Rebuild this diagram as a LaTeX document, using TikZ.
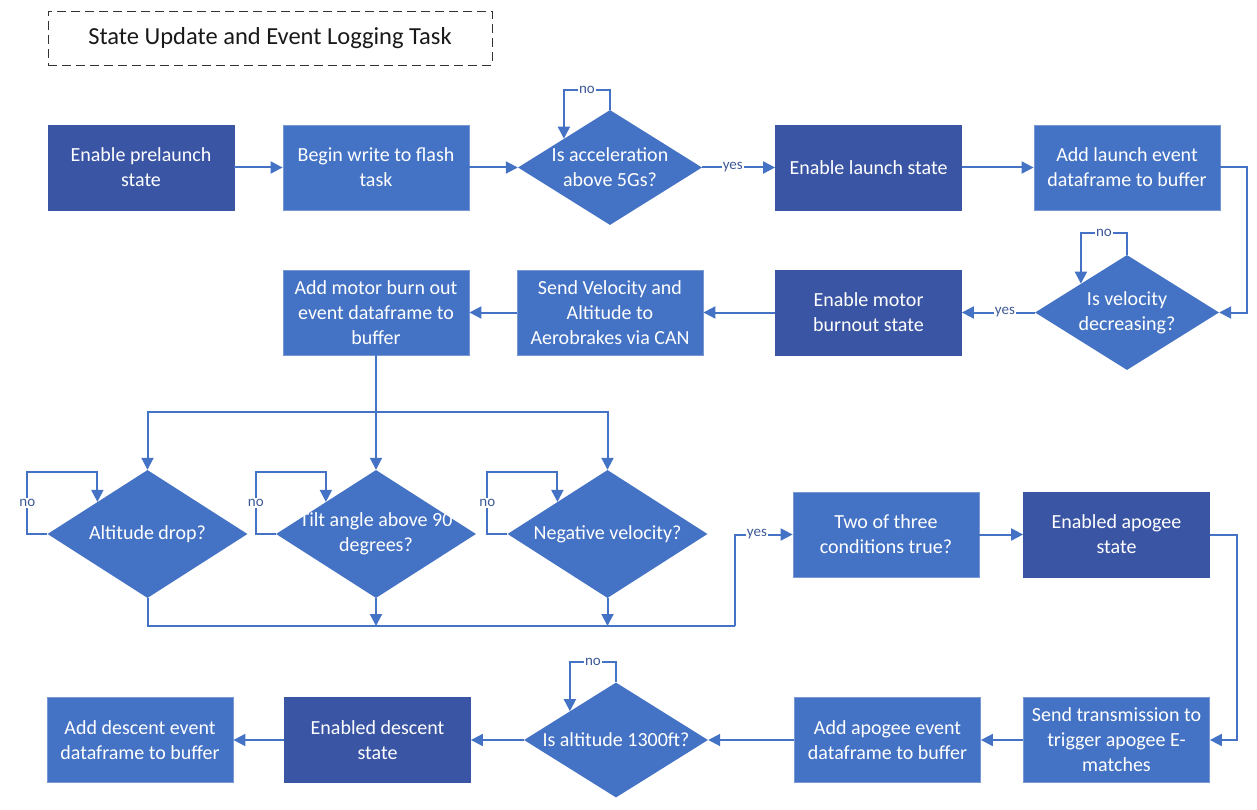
\documentclass[tikz,border=0pt]{standalone}
\usepackage{fontspec}
\setmainfont{Carlito}
\usetikzlibrary{shapes.geometric,arrows.meta,calc}

\definecolor{boxblue}{RGB}{68,114,196}
\definecolor{darkblue}{RGB}{58,85,164}
\definecolor{edgeblue}{RGB}{120,152,212}
\definecolor{lbltext}{RGB}{62,90,150}

\tikzset{
  procbox/.style={rectangle, fill=boxblue, draw=edgeblue, line width=0.8pt, minimum width=186pt, minimum height=85pt, inner sep=2pt, text=white, align=center, font=\fontsize{20}{25}\selectfont},
  darkbox/.style={procbox, fill=darkblue, draw=darkblue},
  decision/.style={diamond, fill=boxblue, minimum width=184pt, minimum height=115pt, inner sep=0pt},
  bigdecision/.style={decision, minimum width=200pt, minimum height=128pt},
  dtext/.style={text=white, align=center, font=\fontsize{20}{25}\selectfont},
  titlebox/.style={rectangle, draw=black!80, line width=0.9pt, dash pattern=on 9pt off 5pt, minimum width=444pt, minimum height=54pt, font=\fontsize{24.5}{28}\selectfont, text=black!90},
  flow/.style={draw=boxblue, line width=2pt, -{Triangle[length=12pt,width=12pt]}},
  plain/.style={draw=boxblue, line width=2pt},
  lbl/.style={fill=white, inner sep=1pt, text=lbltext, font=\fontsize{15}{15}\selectfont},
}

\begin{document}
\begin{tikzpicture}[x=1pt,y=1pt,yscale=-1]
\useasboundingbox (0,0) rectangle (1257,810);

\node[titlebox] (title) at (270,38) {State Update and Event Logging Task};

% launch detection
\node[darkbox] (pre) at (141,167.5) {Enable prelaunch\\state};
\node[procbox] (write) at (376,167.5) {Begin write to flash\\task};
\node[decision, label={[dtext]center:{Is acceleration\\above 5Gs?}}] (acc) at (610,167.5) {};
\node[darkbox] (launch) at (868.5,167.5) {Enable launch state};
\node[procbox] (addlaunch) at (1127,167.5) {Add launch event\\dataframe to buffer};

% burnout
\node[decision, label={[dtext]center:{Is velocity\\decreasing?}}] (vel) at (1127,312.5) {};
\node[darkbox] (burnout) at (868.5,312.5) {Enable motor\\burnout state};
\node[procbox] (sendvel) at (610,312.5) {Send Velocity and\\Altitude to\\Aerobrakes via CAN};
\node[procbox] (addburn) at (376,312.5) {Add motor burn out\\event dataframe to\\buffer};

% apogee checks
\node[bigdecision, label={[dtext]center:{Altitude drop?}}] (alt) at (147.5,534) {};
\node[bigdecision, label={[dtext]center:{Tilt angle above 90\\degrees?}}] (tilt) at (376,534) {};
\node[bigdecision, label={[dtext]center:{Negative velocity?}}] (neg) at (607.5,534) {};
\node[procbox] (two) at (886,534.5) {Two of three\\conditions true?};
\node[darkbox] (apogee) at (1116.5,534.5) {Enabled apogee\\state};
\coordinate (split) at (376,412);
\coordinate (merge) at (735,626);

% descent
\node[procbox] (sendtx) at (1116.5,740) {Send transmission to\\trigger apogee E-\\matches};
\node[procbox] (addapo) at (887.5,740) {Add apogee event\\dataframe to buffer};
\node[decision, label={[dtext]center:{Is altitude 1300ft?}}] (alt13) at (616,740) {};
\node[darkbox] (descent) at (377.5,740) {Enabled descent\\state};
\node[procbox] (adddesc) at (140,740) {Add descent event\\dataframe to buffer};

\draw[flow] (pre) -- (write);
\draw[flow] (write) -- (acc);
\draw[flow] (acc.north) -- ++(0,-20) -| node[lbl,pos=0.25]{no} (acc.north west);
\draw[flow] (acc.east) -- node[lbl,pos=0.42]{yes} (launch.west);
\draw[flow] (launch) -- (addlaunch);
\draw[flow] (addlaunch.east) -- ++(27,0) |- (vel.east);
\draw[flow] (vel.north) -- ++(0,-22) -| node[lbl,pos=0.25]{no} (vel.north west);
\draw[flow] (vel.west) -- node[lbl,pos=0.41]{yes} (burnout.east);
\draw[flow] (burnout) -- (sendvel);
\draw[flow] (sendvel) -- (addburn);

\draw[plain] (addburn.south) -- (split);
\draw[flow] (split) -| (alt.north);
\draw[flow] (split) -- (tilt.north);
\draw[flow] (split) -| (neg.north);
\foreach \d in {alt,tilt,neg}
  \draw[flow] (\d.west) -- ++(-20,0) |- node[lbl,pos=0.25]{no} ($(\d.north west)+(0,-30)$) -- (\d.north west);
\draw[plain] (alt.south) |- (merge);
\draw[flow] (tilt.south) -- (tilt.south |- merge);
\draw[flow] (neg.south) -- (neg.south |- merge);
\draw[flow] (merge) |- node[lbl,pos=0.69]{yes} (two.west);
\draw[flow] (two) -- (apogee);
\draw[flow] (apogee.east) -- ++(27,0) |- (sendtx.east);

\draw[flow] (sendtx) -- (addapo);
\draw[flow] (addapo.west) -- (alt13.east);
\draw[flow] (alt13.north) -- ++(0,-20) -| node[lbl,pos=0.25]{no} (alt13.north west);
\draw[flow] (alt13.west) -- (descent.east);
\draw[flow] (descent) -- (adddesc);

\end{tikzpicture}
\end{document}
